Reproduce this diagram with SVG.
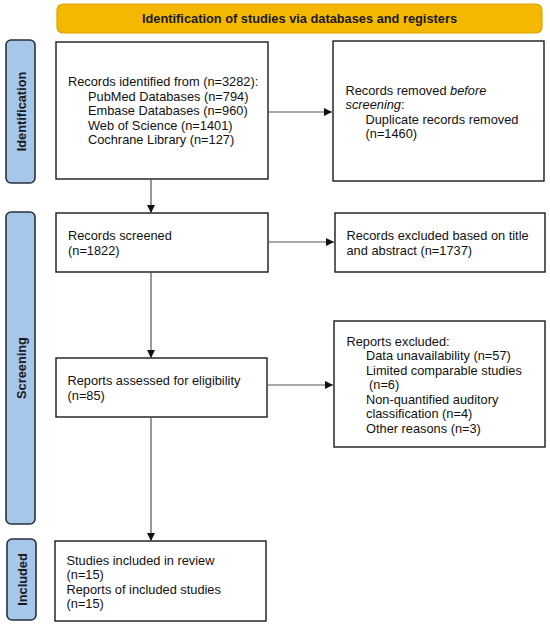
<svg xmlns="http://www.w3.org/2000/svg" width="550" height="628" viewBox="0 0 550 628">
<defs>
<style>
.box{fill:#fff;stroke:#1a1a1a;stroke-width:1.4}
.side{fill:#a6c6ea;stroke:#27313d;stroke-width:1.6}
.t{font-family:"Liberation Sans",Arial,sans-serif;font-size:12.8px;fill:#111}
.b{font-family:"Liberation Sans",Arial,sans-serif;font-size:12.8px;font-weight:bold;fill:#1a1a1a}
.ln{stroke:#555;stroke-width:1.2;fill:none}
</style>
<marker id="ah" viewBox="0 0 10 10" refX="10" refY="5" markerWidth="8" markerHeight="8" markerUnits="userSpaceOnUse" orient="auto">
<path d="M0,0 L10,5 L0,10 Z" fill="#111"/>
</marker>
</defs>
<rect width="550" height="628" fill="#fff"/>
<g id="title">
<rect x="57" y="4" width="485" height="29" rx="6" fill="#f5b800" stroke="#d9a400" stroke-width="1.2"/>
<text class="b" x="299.5" y="23" text-anchor="middle">Identification of studies via databases and registers</text>
</g>
<g id="label-identification">
<rect class="side" x="6" y="40" width="29" height="143" rx="5"/>
<text class="b" transform="translate(25.5,111.5) rotate(-90)" text-anchor="middle">Identification</text>
</g>
<g id="label-screening">
<rect class="side" x="6" y="212" width="29" height="312" rx="5"/>
<text class="b" transform="translate(25.5,368) rotate(-90)" text-anchor="middle">Screening</text>
</g>
<g id="label-included">
<rect class="side" x="7" y="539" width="29" height="81" rx="5"/>
<text class="b" transform="translate(26.5,579.5) rotate(-90)" text-anchor="middle">Included</text>
</g>
<g id="records-identified">
<rect class="box" x="56" y="42" width="212" height="137"/>
<text class="t" x="68" y="86">Records identified from (n=3282):</text>
<text class="t" x="88" y="100.5">PubMed Databases (n=794)</text>
<text class="t" x="88" y="115">Embase Databases (n=960)</text>
<text class="t" x="88" y="129.5">Web of Science (n=1401)</text>
<text class="t" x="88" y="144">Cochrane Library (n=127)</text>
</g>
<g id="records-removed">
<rect class="box" x="333" y="41" width="211" height="140"/>
<text class="t" x="345.5" y="94.5">Records removed <tspan font-style="italic">before</tspan></text>
<text class="t" x="345.5" y="109"><tspan font-style="italic">screening</tspan>:</text>
<text class="t" x="365.5" y="123.5">Duplicate records removed</text>
<text class="t" x="365.5" y="138">(n=1460)</text>
</g>
<g id="records-screened">
<rect class="box" x="56" y="213" width="212" height="59"/>
<text class="t" x="68" y="240">Records screened</text>
<text class="t" x="68" y="255">(n=1822)</text>
</g>
<g id="records-excluded">
<rect class="box" x="335" y="213" width="210" height="59"/>
<text class="t" x="346.5" y="240">Records excluded based on title</text>
<text class="t" x="346.5" y="255">and abstract (n=1737)</text>
</g>
<g id="reports-assessed">
<rect class="box" x="56" y="358" width="211" height="59"/>
<text class="t" x="67.5" y="385">Reports assessed for eligibility</text>
<text class="t" x="67.5" y="400">(n=85)</text>
</g>
<g id="reports-excluded">
<rect class="box" x="334" y="321" width="211" height="126"/>
<text class="t" x="346.5" y="345.5">Reports excluded:</text>
<text class="t" x="366" y="360">Data unavailability (n=57)</text>
<text class="t" x="366" y="374.5">Limited comparable studies</text>
<text class="t" x="369" y="389">(n=6)</text>
<text class="t" x="366" y="403.5">Non-quantified auditory</text>
<text class="t" x="366" y="418">classification (n=4)</text>
<text class="t" x="366" y="432.5">Other reasons (n=3)</text>
</g>
<g id="studies-included">
<rect class="box" x="55" y="541" width="211" height="80"/>
<text class="t" x="66.5" y="564.5">Studies included in review</text>
<text class="t" x="66.5" y="579">(n=15)</text>
<text class="t" x="66.5" y="593.5">Reports of included studies</text>
<text class="t" x="66.5" y="608">(n=15)</text>
</g>
<g id="connectors">
<line class="ln" x1="268" y1="112" x2="332" y2="112" marker-end="url(#ah)"/>
<line class="ln" x1="151" y1="179" x2="151" y2="213" marker-end="url(#ah)"/>
<line class="ln" x1="268" y1="242" x2="334" y2="242" marker-end="url(#ah)"/>
<line class="ln" x1="151" y1="272" x2="151" y2="358" marker-end="url(#ah)"/>
<line class="ln" x1="267" y1="385" x2="333" y2="385" marker-end="url(#ah)"/>
<line class="ln" x1="151" y1="417" x2="151" y2="541" marker-end="url(#ah)"/>
</g>
</svg>
